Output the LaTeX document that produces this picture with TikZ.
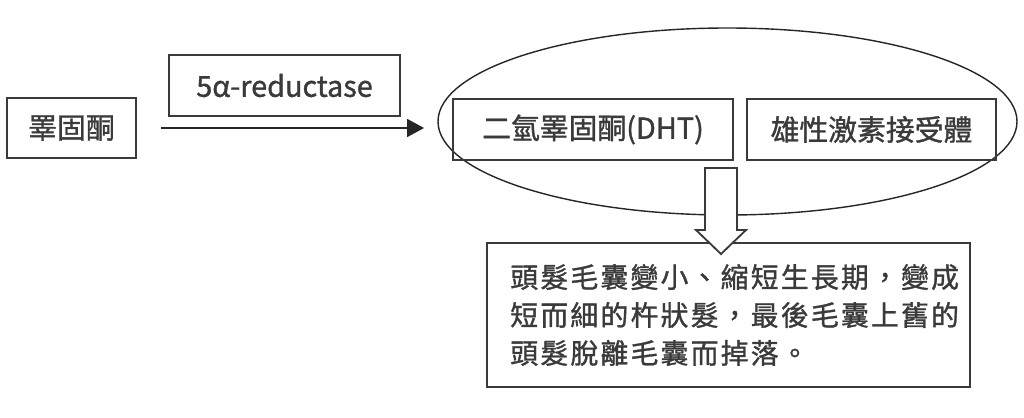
\documentclass[tikz,border=0pt]{standalone}
\usepackage{xcolor}
\usepackage{fontspec}
\setmainfont{Noto Sans CJK TC}[FakeBold=1.2]
\newfontfamily\spacedfont[LetterSpace=8,FakeBold=1.2]{Noto Sans CJK TC}
\usepackage{tikz}
\usetikzlibrary{shapes,arrows.meta,positioning}
\definecolor{inkgray}{HTML}{3A3A3A}
\tikzset{
    box/.style={draw=inkgray, line width=1.3pt, text=inkgray, inner sep=0pt,
        font=\fontsize{20.5}{24}\selectfont},
    flow/.style={draw=black!85, line width=1.1pt, -{Triangle[length=0.425cm,width=0.45cm]}}
}

\begin{document}
\begin{tikzpicture}[x=1cm, y=-1cm]
        \useasboundingbox (0,0) rectangle (25.6,10.45);

        % Define the hormone boxes
        \node[box, minimum width=3.225cm, minimum height=1.5cm] (testo) at (1.7875,3.2) {睪固酮};
        \node[box, minimum width=5.775cm, minimum height=1.525cm] (enzyme) at (7.1125,2.1375) {5α-reductase};

        % Define the group round DHT and receptor
        \node[ellipse, draw=black!85, line width=1pt, inner sep=0pt,
              minimum width=14.475cm, minimum height=4.675cm] (group) at (18.1875,3.0375) {};
        \node[box, minimum width=7cm, minimum height=1.525cm] (dht) at (14.825,3.2375) {二氫睪固酮(DHT)};
        \node[box, minimum width=6.225cm, minimum height=1.525cm] (receptor) at (21.7875,3.2375) {雄性激素接受體};

        % Conversion arrow
        \draw[flow, shorten <=0.6cm, shorten >=0.33cm] (testo.east) -- (testo.east -| group.west);

        % Result box
        \node[box, minimum width=12.075cm, minimum height=3.6cm] (result) at (18.2125,7.875) {};
        \node[anchor=west, align=left, text=inkgray, inner sep=0pt,
              font=\spacedfont\fontsize{19.8}{27}\selectfont] (effect) at (12.75,7.875)
              {頭髮毛囊變小、縮短生長期，變成\\短而細的杵狀髮，最後毛囊上舊的\\頭髮脫離毛囊而掉落。};

        % Hollow arrow down to the result
        \draw[draw=inkgray, line width=1.3pt, fill=white, line join=miter]
            (17.625,4.2) -- (18.425,4.2) -- (18.425,5.75) -- (18.65,5.75)
            -- (18.025,6.35) -- (17.4,5.75) -- (17.625,5.75) -- cycle;
    \end{tikzpicture}
\end{document}
